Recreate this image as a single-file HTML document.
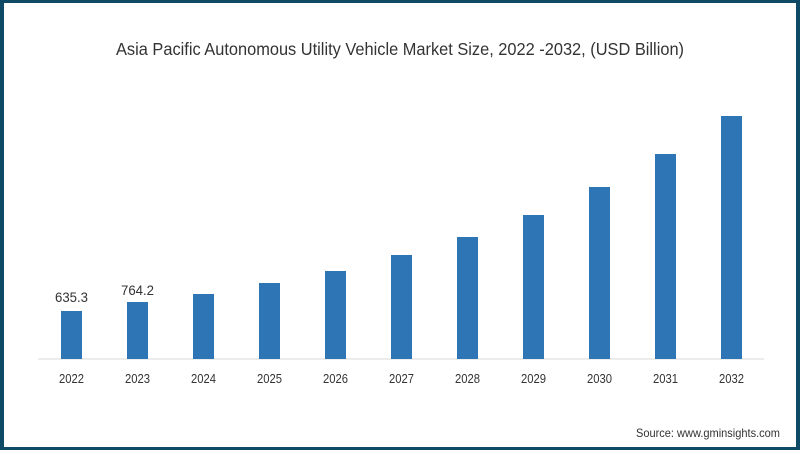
<!DOCTYPE html>
<html><head><meta charset="utf-8"><style>
html,body{margin:0;padding:0;background:#fff;}
svg{display:block;}
</style></head><body>
<svg width="800" height="450" viewBox="0 0 800 450" xmlns="http://www.w3.org/2000/svg">
<rect x="0" y="0" width="800" height="450" fill="#0e4a66"/>
<rect x="4" y="3" width="792" height="444" fill="#ffffff"/>
<text x="400" y="55" text-anchor="middle" font-family="Liberation Sans, sans-serif" font-size="17.5" fill="#333" textLength="568" lengthAdjust="spacingAndGlyphs">Asia Pacific Autonomous Utility Vehicle  Market Size, 2022 -2032, (USD Billion)</text>
<line x1="38" y1="359" x2="764" y2="359" stroke="#d9d9d9" stroke-width="1"/>
<g fill="#2e75b6">
<rect x="61" y="311" width="21" height="48"/>
<rect x="127" y="302" width="21" height="57"/>
<rect x="193" y="294" width="21" height="65"/>
<rect x="259" y="283" width="21" height="76"/>
<rect x="325" y="271" width="21" height="88"/>
<rect x="391" y="255" width="21" height="104"/>
<rect x="457" y="237" width="21" height="122"/>
<rect x="523" y="215" width="21" height="144"/>
<rect x="589" y="187" width="21" height="172"/>
<rect x="655" y="154" width="21" height="205"/>
<rect x="721" y="116" width="21" height="243"/>
</g>
<g font-family="Liberation Sans, sans-serif" font-size="14" fill="#333" text-anchor="middle">
<text x="71.5" y="302" textLength="33" lengthAdjust="spacingAndGlyphs">635.3</text>
<text x="137.5" y="295" textLength="33" lengthAdjust="spacingAndGlyphs">764.2</text>
</g>
<g font-family="Liberation Sans, sans-serif" font-size="12.5" fill="#333" text-anchor="middle">
<text x="71.5" y="383" textLength="25" lengthAdjust="spacingAndGlyphs">2022</text>
<text x="137.5" y="383" textLength="25" lengthAdjust="spacingAndGlyphs">2023</text>
<text x="203.5" y="383" textLength="25" lengthAdjust="spacingAndGlyphs">2024</text>
<text x="269.5" y="383" textLength="25" lengthAdjust="spacingAndGlyphs">2025</text>
<text x="335.5" y="383" textLength="25" lengthAdjust="spacingAndGlyphs">2026</text>
<text x="401.5" y="383" textLength="25" lengthAdjust="spacingAndGlyphs">2027</text>
<text x="467.5" y="383" textLength="25" lengthAdjust="spacingAndGlyphs">2028</text>
<text x="533.5" y="383" textLength="25" lengthAdjust="spacingAndGlyphs">2029</text>
<text x="599.5" y="383" textLength="25" lengthAdjust="spacingAndGlyphs">2030</text>
<text x="665.5" y="383" textLength="25" lengthAdjust="spacingAndGlyphs">2031</text>
<text x="731.5" y="383" textLength="25" lengthAdjust="spacingAndGlyphs">2032</text>
</g>
<text x="636" y="437" font-family="Liberation Sans, sans-serif" font-size="12" fill="#333" textLength="144" lengthAdjust="spacingAndGlyphs">Source: www.gminsights.com</text>
</svg>
</body></html>
